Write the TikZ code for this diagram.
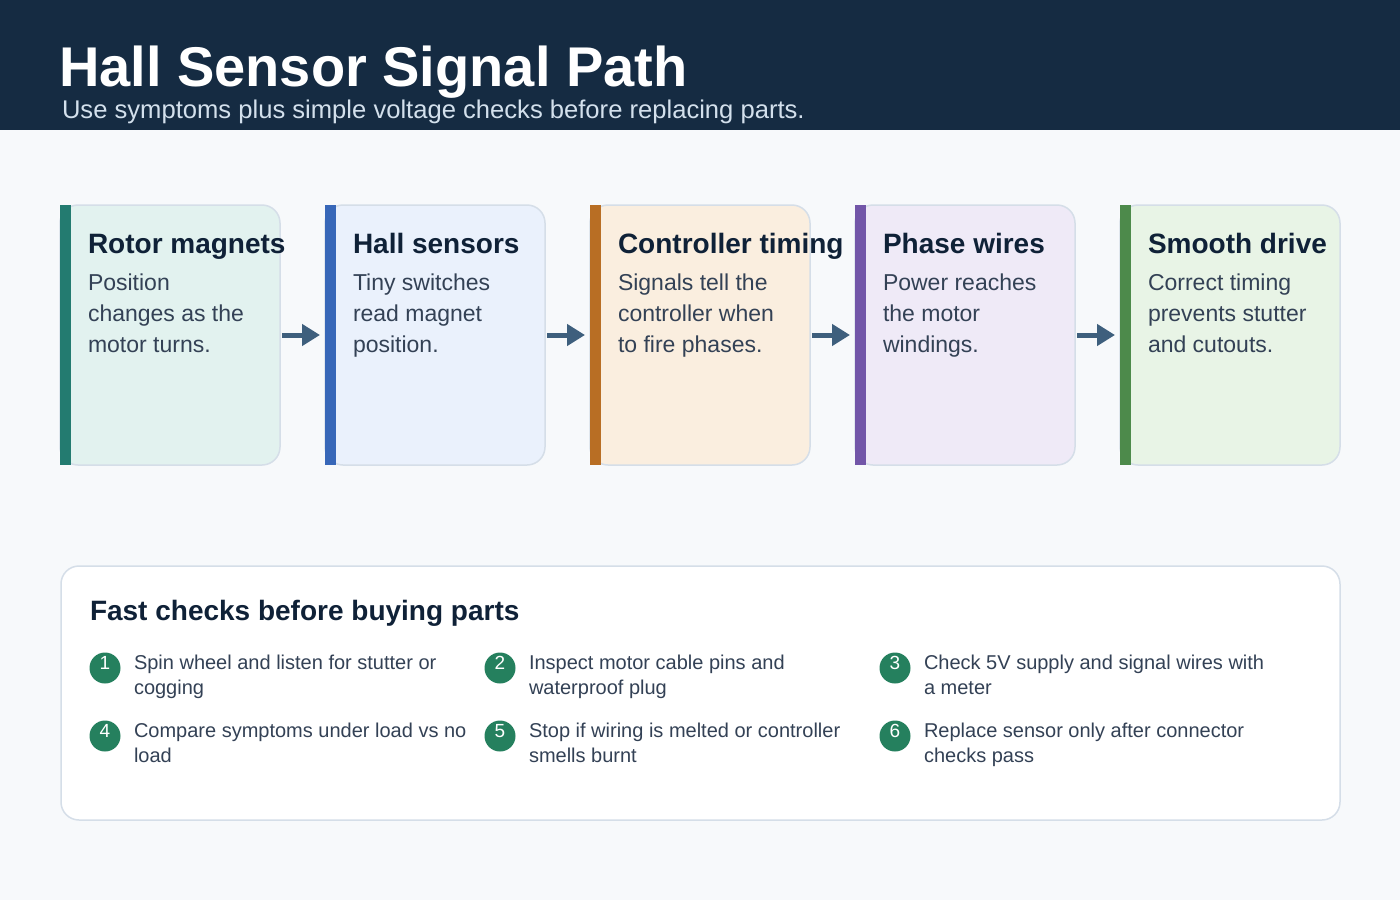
\documentclass[tikz,border=0pt]{standalone}
\usepackage{fontspec}
\setmainfont{Liberation Sans}
\usepackage{tikz}
\usetikzlibrary{arrows.meta,positioning,calc}
\definecolor{pagebg}{HTML}{F7F9FB}
\definecolor{headbg}{HTML}{152B42}
\definecolor{subtxt}{HTML}{D3E0EC}
\definecolor{ink}{HTML}{0F2137}
\definecolor{slate}{HTML}{334155}
\definecolor{edge}{HTML}{D5DEE8}
\definecolor{flowc}{HTML}{3E5F7D}
\definecolor{stepc}{HTML}{25805E}
\definecolor{tealbar}{HTML}{237B70}
\definecolor{tealbg}{HTML}{E2F2EF}
\definecolor{bluebar}{HTML}{3767B8}
\definecolor{bluebg}{HTML}{EAF1FC}
\definecolor{orangebar}{HTML}{B86E24}
\definecolor{orangebg}{HTML}{FAEEDF}
\definecolor{purplebar}{HTML}{7256A8}
\definecolor{purplebg}{HTML}{EFEAF7}
\definecolor{greenbar}{HTML}{4D8A4B}
\definecolor{greenbg}{HTML}{E8F4E6}

\begin{document}
\begin{tikzpicture}[x=1pt,y=-1pt,every node/.style={inner sep=0pt,outer sep=0pt},node distance=45pt,card/.style={draw=edge,line width=1.5pt,rounded corners=18pt,minimum width=220pt,minimum height=260pt},cardhd/.style={anchor=base west,text=ink,font=\fontsize{28}{34}\selectfont\bfseries},cardtx/.style={anchor=base west,align=left,text=slate,font=\fontsize{23}{31}\selectfont},flow/.style={draw=flowc,line width=5pt,-{Triangle[length=18pt,width=21pt]},shorten <=2pt,shorten >=5pt},stepdot/.style={circle,fill=stepc,minimum size=31pt,text=white,font=\fontsize{19}{21}\selectfont,text height=8pt,text depth=6pt},steptx/.style={anchor=base west,align=left,text=slate,font=\fontsize{20}{25}\selectfont}]
\useasboundingbox (0,0) rectangle (1400,900);
\fill[pagebg] (0,0) rectangle (1400,900);
\fill[headbg] (0,0) rectangle (1400,130);
\node[anchor=base west,text=white,font=\fontsize{56}{60}\selectfont\bfseries] (title) at (59,86) {Hall Sensor Signal Path};
\node[anchor=base west,text=subtxt,font=\fontsize{25.6}{30}\selectfont] (subtitle) at (62,118) {Use symptoms plus simple voltage checks before replacing parts.};
% signal path cards
\node[card,fill=tealbg,anchor=north west] (rotor) at (60,205) {};
\node[card,fill=bluebg,right=of rotor] (hall) {};
\node[card,fill=orangebg,right=of hall] (timing) {};
\node[card,fill=purplebg,right=of timing] (phase) {};
\node[card,fill=greenbg,right=of phase] (drive) {};
\fill[tealbar] (rotor.north west) rectangle ++(11,260);
\fill[bluebar] (hall.north west) rectangle ++(11,260);
\fill[orangebar] (timing.north west) rectangle ++(11,260);
\fill[purplebar] (phase.north west) rectangle ++(11,260);
\fill[greenbar] (drive.north west) rectangle ++(11,260);
% body anchors sit on the last line
\node[cardhd] (rotorhd) at ($(rotor.north west)+(28,48)$) {Rotor magnets};
\node[cardtx] (rotortx) at ($(rotor.north west)+(28,147)$) {Position\\changes as the\\motor turns.};
\node[cardhd] (hallhd) at ($(hall.north west)+(28,48)$) {Hall sensors};
\node[cardtx] (halltx) at ($(hall.north west)+(28,147)$) {Tiny switches\\read magnet\\position.};
\node[cardhd] (timinghd) at ($(timing.north west)+(28,48)$) {Controller timing};
\node[cardtx] (timingtx) at ($(timing.north west)+(28,147)$) {Signals tell the\\controller when\\to fire phases.};
\node[cardhd] (phasehd) at ($(phase.north west)+(28,48)$) {Phase wires};
\node[cardtx] (phasetx) at ($(phase.north west)+(28,147)$) {Power reaches\\the motor\\windings.};
\node[cardhd] (drivehd) at ($(drive.north west)+(28,48)$) {Smooth drive};
\node[cardtx] (drivetx) at ($(drive.north west)+(28,147)$) {Correct timing\\prevents stutter\\and cutouts.};
\draw[flow] (rotor.east) -- (hall.west);
\draw[flow] (hall.east) -- (timing.west);
\draw[flow] (timing.east) -- (phase.west);
\draw[flow] (phase.east) -- (drive.west);
% fast checks panel
\node[draw=edge,fill=white,line width=1.5pt,rounded corners=18pt,minimum width=1279pt,minimum height=254pt,anchor=north west] (checks) at (61,566) {};
\node[anchor=base west,text=ink,font=\fontsize{28}{32}\selectfont\bfseries] (checkshd) at ($(checks.north west)+(29,54)$) {Fast checks before buying parts};
\node[stepdot] (c1) at ($(checks.north west)+(44,102)$) {1};
\node[stepdot] (c2) at ($(c1)+(395,0)$) {2};
\node[stepdot] (c3) at ($(c2)+(395,0)$) {3};
\node[stepdot] (c4) at ($(c1)+(0,68)$) {4};
\node[stepdot] (c5) at ($(c4)+(395,0)$) {5};
\node[stepdot] (c6) at ($(c5)+(395,0)$) {6};
\node[steptx] (t1) at ($(c1)+(29,26)$) {Spin wheel and listen for stutter or\\cogging};
\node[steptx] (t2) at ($(c2)+(29,26)$) {Inspect motor cable pins and\\waterproof plug};
\node[steptx] (t3) at ($(c3)+(29,26)$) {Check 5V supply and signal wires with\\a meter};
\node[steptx] (t4) at ($(c4)+(29,26)$) {Compare symptoms under load vs no\\load};
\node[steptx] (t5) at ($(c5)+(29,26)$) {Stop if wiring is melted or controller\\smells burnt};
\node[steptx] (t6) at ($(c6)+(29,26)$) {Replace sensor only after connector\\checks pass};
\end{tikzpicture}
\end{document}
